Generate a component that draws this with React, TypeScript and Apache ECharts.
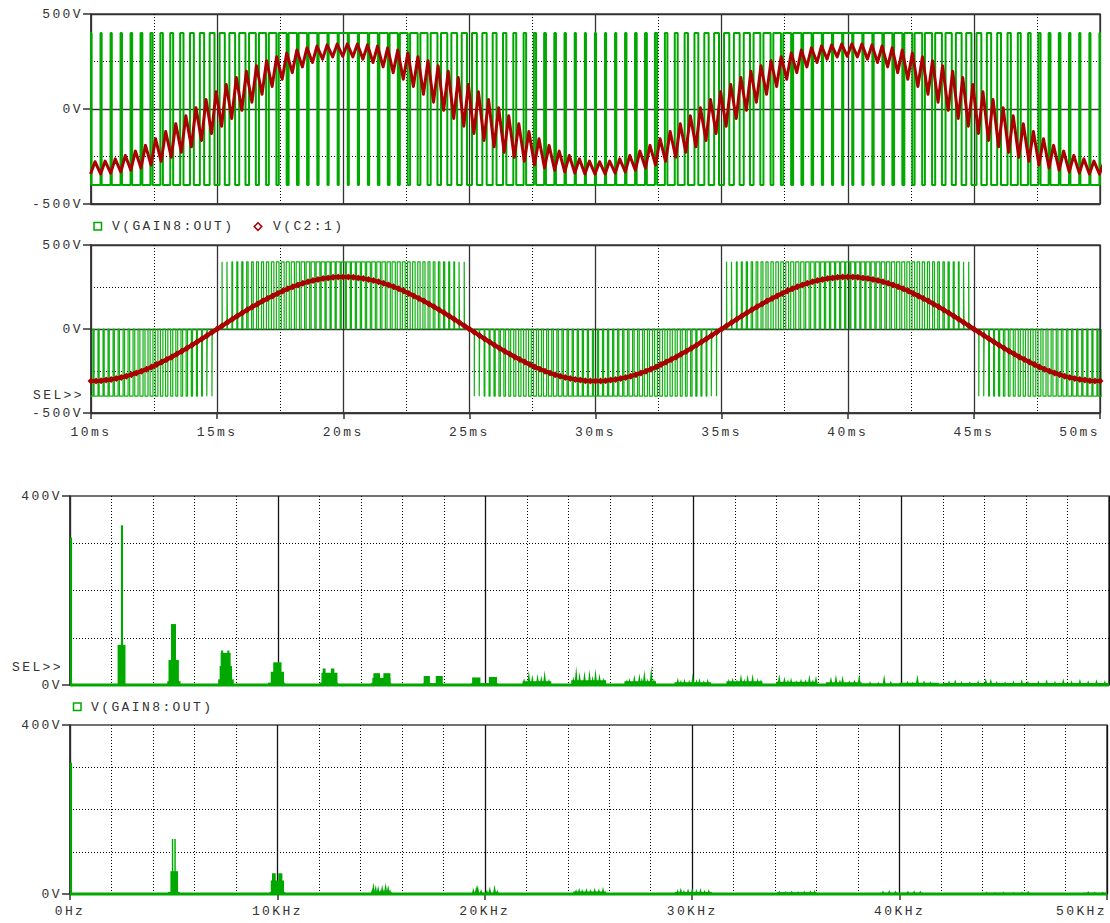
import React, { useEffect, useRef } from 'react';
import * as echarts from 'echarts';

// ---------- tick labels ----------
const timeTickLabels = ['10ms', '15ms', '20ms', '25ms', '30ms', '35ms', '40ms', '45ms', '50ms'];
const freqTickLabels = ['0Hz', '10KHz', '20KHz', '30KHz', '40KHz', '50KHz'];
const voltTickLabels = ['-500V', '0V', '500V'];
const spectrumTickLabels = ['0V', '400V'];

// ---------- time domain (one 20 ms fundamental cycle, repeated) ----------
const busVoltage = 400; // PWM level, V
const topCarrierPeriod = 0.4; // ms, bipolar PWM
const botPulsePeriod = 0.2; // ms, unipolar PWM
// duty of each bipolar pulse in one cycle (pulse k centred at 10ms + 0.4ms*k)
const topDuty = [0.11, 0.11, 0.12, 0.14, 0.16, 0.18, 0.22, 0.25, 0.29, 0.33, 0.38, 0.43, 0.48, 0.52, 0.57, 0.62, 0.67, 0.71, 0.75, 0.78, 0.82, 0.84, 0.86, 0.88, 0.89,
  0.89, 0.89, 0.88, 0.86, 0.84, 0.82, 0.78, 0.75, 0.71, 0.67, 0.62, 0.57, 0.52, 0.48, 0.43, 0.38, 0.33, 0.29, 0.25, 0.22, 0.18, 0.16, 0.14, 0.12, 0.11];
// mid value of V(C2:1) in the top plot at each pulse (V)
const topRedMid = [-310, -308, -300, -288, -272, -251, -226, -197, -166, -132, -96, -58, -19, 19, 58, 96, 132, 166, 197, 226, 251, 272, 288, 300, 308,
  310, 308, 300, 288, 272, 251, 226, 197, 166, 132, 96, 58, 19, -19, -58, -96, -132, -166, -197, -226, -251, -272, -288, -300, -308];
// peak-to-peak ripple of V(C2:1) in the top plot at each pulse (V)
const topRedRipple = [65, 68, 75, 87, 101, 119, 138, 157, 176, 192, 205, 215, 219, 219, 215, 205, 192, 176, 157, 138, 119, 101, 87, 75, 68,
  65, 68, 75, 87, 101, 119, 138, 157, 176, 192, 205, 215, 219, 219, 215, 205, 192, 176, 157, 138, 119, 101, 87, 75, 68];
// V(C2:1) in the second plot, every 0.2 ms over one cycle starting at 10 ms (V)
const botRed = [-310, -309, -308, -304, -300, -295, -288, -281, -272, -262, -251, -239, -226, -212, -197, -182, -166, -149, -132, -114, -96, -77, -58, -39, -19, 0,
  19, 39, 58, 77, 96, 114, 132, 149, 166, 182, 197, 212, 226, 239, 251, 262, 272, 281, 288, 295, 300, 304, 308, 309, 310,
  309, 308, 304, 300, 295, 288, 281, 272, 262, 251, 239, 226, 212, 197, 182, 166, 149, 132, 114, 96, 77, 58, 39, 19, 0,
  -19, -39, -58, -77, -96, -114, -132, -149, -166, -182, -197, -212, -226, -239, -251, -262, -272, -281, -288, -295, -300, -304, -308, -309];

// ---------- spectra: blocks [f0 KHz, f1 KHz, V], spikes [f KHz, V] ----------
const fft1Blocks = [
  [0, 0.1, 312], [2.29, 2.67, 85], [2.45, 2.55, 338],
  [4.68, 5.32, 8], [4.74, 5.24, 53], [4.86, 5.1, 129],
  [7.13, 7.88, 12], [7.2, 7.8, 40], [7.25, 7.73, 68], [7.27, 7.37, 73], [7.57, 7.67, 73],
  [9.53, 10.34, 5], [9.66, 10.3, 28], [9.78, 10.18, 48],
  [12.02, 12.9, 5], [12.1, 12.87, 26], [12.16, 12.3, 35], [12.56, 12.72, 35],
  [14.5, 15.46, 5], [14.55, 15.42, 15], [14.6, 14.92, 25], [15.08, 15.42, 25],
  [16.99, 17.95, 4], [17.02, 17.32, 19], [17.6, 17.94, 19],
  [19.31, 20.59, 4], [19.35, 19.75, 16], [20.16, 20.55, 17],
  [21.78, 23.16, 8], [24.12, 25.8, 10], [26.68, 28.2, 8], [29.09, 30.85, 6], [31.59, 33.32, 8],
  [33.98, 35.96, 7], [36.38, 38.1, 6], [38.1, 39.9, 3], [39.9, 41.8, 5], [42.0, 50, 4],
];
const fft1Spikes = [
  [21.85, 15], [22.08, 31], [22.25, 22], [22.5, 24], [22.68, 20], [22.84, 31], [23.05, 14],
  [24.22, 18], [24.36, 40], [24.52, 28], [24.76, 30], [25.0, 33], [25.15, 20], [25.29, 35], [25.48, 25], [25.68, 16],
  [26.8, 12], [26.92, 15], [27.16, 22], [27.4, 25], [27.52, 16], [27.64, 32], [27.8, 14], [27.97, 40], [28.1, 14],
  [29.25, 16], [29.4, 11], [29.57, 13], [29.8, 11], [29.97, 25], [30.15, 12], [30.29, 15], [30.5, 10], [30.69, 13],
  [31.7, 13], [31.89, 16], [32.1, 12], [32.29, 24], [32.45, 14], [32.61, 22], [32.85, 24], [33.09, 15], [33.25, 12],
  [34.13, 24], [34.38, 18], [34.55, 12], [34.7, 16], [34.95, 10], [35.18, 14], [35.4, 12], [35.58, 22], [35.75, 12], [35.9, 20],
  [36.62, 18], [36.86, 22], [37.05, 12], [37.18, 20], [37.5, 10], [37.75, 12], [37.98, 24], [38.5, 8], [38.9, 7], [39.18, 22], [39.5, 9],
  [40.3, 9], [40.55, 7], [40.78, 22], [41.1, 10], [41.4, 8],
  [42.3, 10], [42.6, 12], [42.9, 9], [43.3, 8], [43.7, 10], [44.07, 15], [44.31, 14], [44.6, 9], [45.0, 8], [45.4, 10],
  [45.8, 12], [46.1, 9], [46.6, 10], [47.0, 12], [47.4, 9], [47.8, 14], [48.2, 10], [48.6, 13], [49.0, 10], [49.4, 12], [49.8, 10],
];
const fft2Blocks = [
  [0, 0.1, 311],
  [4.73, 5.29, 5], [4.84, 5.21, 54], [4.91, 4.98, 130], [5.03, 5.1, 130],
  [9.62, 10.38, 5], [9.68, 10.32, 32], [9.74, 9.92, 49], [10.04, 10.24, 49],
  [14.52, 15.52, 4],
  [19.36, 20.66, 3], [24.26, 25.85, 6], [29.17, 30.95, 5], [34.08, 36.0, 4], [39.05, 41.15, 3], [43.96, 46.3, 3], [48.85, 50, 3],
];
const fft2Spikes = [
  [14.58, 14], [14.63, 27], [14.74, 22], [14.86, 20], [14.96, 10], [15.05, 22], [15.14, 12], [15.22, 27], [15.34, 22], [15.43, 12],
  [19.45, 14], [19.59, 20], [19.66, 22], [19.82, 12], [20.1, 10], [20.24, 18], [20.47, 22], [20.6, 10],
  [24.4, 12], [24.55, 15], [24.7, 12], [24.9, 14], [25.1, 12], [25.3, 15], [25.5, 13], [25.7, 17],
  [29.3, 12], [29.45, 15], [29.6, 10], [29.8, 13], [30.0, 14], [30.2, 12], [30.4, 14], [30.6, 10], [30.8, 12],
  [34.2, 8], [34.5, 7], [34.8, 8], [35.1, 7], [35.4, 8], [35.7, 9], [35.9, 10],
  [39.2, 8], [39.5, 10], [39.8, 8], [40.4, 8], [40.7, 9], [41.0, 8],
  [44.2, 6], [44.6, 5], [45.0, 6], [45.5, 5], [45.9, 6], [46.2, 8],
  [49.1, 7], [49.4, 6], [49.8, 6],
];
const spectrumFloor = [[0, 0], [50, 0]];

// ---------- build series data ----------
const topGreen: number[][] = [];
const topRed: number[][] = [];
for (let k = 0; k <= 100; k++) {
  const tc = 10 + k * topCarrierPeriod;
  const w = topDuty[k % topDuty.length] * topCarrierPeriod;
  topGreen.push([tc - w / 2, -busVoltage], [tc - w / 2, busVoltage], [tc + w / 2, busVoltage], [tc + w / 2, -busVoltage]);
  const mid = topRedMid[k % topRedMid.length];
  const pp = topRedRipple[k % topRedRipple.length];
  topRed.push([tc - 0.02, mid - pp / 2], [tc + 0.16, mid + pp / 2]);
}
const botGreen: number[][] = [];
const botRedData: number[][] = [];
for (let j = 0; j <= 200; j++) {
  const tc = 10 + j * botPulsePeriod;
  const v = botRed[j % botRed.length];
  botRedData.push([tc, v]);
  if (v !== 0) {
    const level = Math.sign(v) * busVoltage;
    const w = (Math.abs(v) / busVoltage) * botPulsePeriod;
    botGreen.push([tc - w / 2, 0], [tc - w / 2, level], [tc + w / 2, level], [tc + w / 2, 0]);
  }
}
const spikeHalf = 0.08;
const toSegments = (blocks: number[][], spikes: number[][]) => [
  ...blocks.map((b) => [b[0], b[1], b[2], 0]),
  ...spikes.map((s) => [s[0] - spikeHalf, s[0] + spikeHalf, s[1], 1]),
];

// ---------- styles ----------
const FONT = '"Liberation Mono", monospace';
const FS = 13;
const TXT = '#333';
const GREEN = '#00a800';
const RED = '#aa0000';
const solidLine = { color: '#333', width: 1.3 };
const dottedLine = { color: '#000', width: 1, type: [1, 2] };
const axisLineStyle = { color: '#333', width: 1.5 };

function xAxisTime(gridIndex: number, labels: boolean) {
  return {
    type: 'value', gridIndex, min: 10, max: 50, interval: 5,
    axisLine: { show: true, onZero: false, lineStyle: axisLineStyle },
    axisTick: { show: labels, length: 6, lineStyle: axisLineStyle },
    axisLabel: {
      show: labels, margin: 13, fontFamily: FONT, fontSize: FS, color: TXT, alignMaxLabel: 'right',
      formatter: (v: number) => timeTickLabels[Math.round((v - 10) / 5)],
    },
    splitLine: { show: true, lineStyle: solidLine },
    minorTick: { show: false, splitNumber: 2 },
    minorSplitLine: { show: true, lineStyle: dottedLine },
  };
}
function xAxisFreq(gridIndex: number, labels: boolean) {
  return {
    type: 'value', gridIndex, min: 0, max: 50, interval: 10,
    axisLine: { show: true, onZero: false, lineStyle: axisLineStyle },
    axisTick: { show: labels, length: 6, lineStyle: axisLineStyle },
    axisLabel: {
      show: labels, margin: 11, fontFamily: FONT, fontSize: FS, color: TXT, alignMaxLabel: 'right',
      formatter: (v: number) => freqTickLabels[Math.round(v / 10)],
    },
    splitLine: { show: true, lineStyle: { color: '#111', width: 1.3 } },
    minorTick: { show: false, splitNumber: 5 },
    minorSplitLine: { show: true, lineStyle: dottedLine },
  };
}
function yAxisVolt(gridIndex: number) {
  return {
    type: 'value', gridIndex, min: -500, max: 500, interval: 500,
    axisLine: { show: true, onZero: false, lineStyle: axisLineStyle },
    axisTick: { show: true, length: 8, lineStyle: axisLineStyle },
    axisLabel: {
      margin: 8, fontFamily: FONT, fontSize: FS, color: TXT,
      formatter: (v: number) => voltTickLabels[Math.round((v + 500) / 500)],
    },
    splitLine: { show: true, lineStyle: solidLine },
    minorTick: { show: false, splitNumber: 2 },
    minorSplitLine: { show: true, lineStyle: dottedLine },
  };
}
function yAxisSpec(gridIndex: number) {
  return {
    type: 'value', gridIndex, min: 0, max: 400, interval: 400,
    axisLine: { show: true, onZero: false, lineStyle: axisLineStyle },
    axisTick: { show: true, length: 8, lineStyle: axisLineStyle },
    axisLabel: {
      margin: 8, fontFamily: FONT, fontSize: FS, color: TXT,
      formatter: (v: number) => spectrumTickLabels[Math.round(v / 400)],
    },
    splitLine: { show: false },
    minorTick: { show: false, splitNumber: 4 },
    minorSplitLine: { show: true, lineStyle: dottedLine },
  };
}

const renderSpectrum = (_params: any, api: any) => {
  const f0 = api.value(0);
  const f1 = api.value(1);
  const a = api.value(2);
  const kind = api.value(3);
  const pTop = api.coord([f0, a]);
  const pBase = api.coord([f1, 0]);
  if (kind === 1) {
    const apex = api.coord([(f0 + f1) / 2, a]);
    return {
      type: 'polygon',
      shape: { points: [[pTop[0], pBase[1]], [apex[0], apex[1]], [pBase[0], pBase[1]]] },
      style: { fill: GREEN },
    };
  }
  return {
    type: 'rect',
    shape: { x: pTop[0], y: pTop[1], width: Math.max(pBase[0] - pTop[0], 1), height: pBase[1] - pTop[1] },
    style: { fill: GREEN },
  };
};

const gridBase = { show: true, borderColor: '#444', borderWidth: 1.5, backgroundColor: 'transparent', containLabel: false };
const txt = (text: string, x: number, y: number) => ({
  type: 'text', x, y, style: { text, fontFamily: FONT, fontSize: FS, fill: TXT, verticalAlign: 'middle' },
});

const option: any = {
  animation: false,
  backgroundColor: '#ffffff',
  grid: [
    { ...gridBase, left: 91, top: 14, width: 1009, height: 190 },
    { ...gridBase, left: 91, top: 245, width: 1009, height: 168 },
    { ...gridBase, left: 70, top: 496, width: 1039, height: 189 },
    { ...gridBase, left: 70, top: 725, width: 1039, height: 169 },
  ],
  xAxis: [xAxisTime(0, false), xAxisTime(1, true), xAxisFreq(2, false), xAxisFreq(3, true)],
  yAxis: [yAxisVolt(0), yAxisVolt(1), yAxisSpec(2), yAxisSpec(3)],
  series: [
    { type: 'line', name: 'V(GAIN8:OUT)', xAxisIndex: 0, yAxisIndex: 0, data: topGreen, showSymbol: false, symbol: 'none', lineStyle: { color: GREEN, width: 2 }, clip: true },
    { type: 'line', name: 'V(C2:1)', xAxisIndex: 0, yAxisIndex: 0, data: topRed, showSymbol: false, symbol: 'none', lineStyle: { color: RED, width: 3, join: 'round' }, clip: true },
    { type: 'line', name: 'V(GAIN8:OUT)', xAxisIndex: 1, yAxisIndex: 1, data: botGreen, showSymbol: false, symbol: 'none', lineStyle: { color: '#10b010', width: 1.2 }, clip: true },
    { type: 'line', name: 'V(C2:1)', xAxisIndex: 1, yAxisIndex: 1, data: botRedData, symbol: 'diamond', symbolSize: 7, showSymbol: true, itemStyle: { color: RED }, lineStyle: { color: RED, width: 4 }, clip: true },
    { type: 'line', name: 'floor1', xAxisIndex: 2, yAxisIndex: 2, data: spectrumFloor, symbol: 'none', lineStyle: { color: GREEN, width: 3 }, clip: false },
    { type: 'custom', name: 'V(GAIN8:OUT)', xAxisIndex: 2, yAxisIndex: 2, data: toSegments(fft1Blocks, fft1Spikes), renderItem: renderSpectrum, encode: { x: [0, 1], y: 2 }, clip: true },
    { type: 'line', name: 'floor2', xAxisIndex: 3, yAxisIndex: 3, data: spectrumFloor, symbol: 'none', lineStyle: { color: GREEN, width: 3 }, clip: false },
    { type: 'custom', name: 'V(GAIN8:OUT)', xAxisIndex: 3, yAxisIndex: 3, data: toSegments(fft2Blocks, fft2Spikes), renderItem: renderSpectrum, encode: { x: [0, 1], y: 2 }, clip: true },
  ],
  graphic: [
    { type: 'rect', shape: { x: 94, y: 222.5, width: 7.5, height: 7.5 }, style: { fill: 'none', stroke: GREEN, lineWidth: 1.5 } },
    txt('V(GAIN8:OUT)', 112, 226.5),
    { type: 'polygon', shape: { points: [[258, 222.8], [261.8, 226.6], [258, 230.4], [254.2, 226.6]] }, style: { fill: 'none', stroke: RED, lineWidth: 1.5 } },
    txt('V(C2:1)', 273, 226.5),
    txt('SEL>>', 33, 395),
    txt('SEL>>', 12, 667),
    { type: 'rect', shape: { x: 73.5, y: 703, width: 7.5, height: 7.5 }, style: { fill: 'none', stroke: GREEN, lineWidth: 1.5 } },
    txt('V(GAIN8:OUT)', 91, 707),
  ],
};

export default function App() {
  const ref = useRef<HTMLDivElement>(null);
  useEffect(() => {
    document.body.style.margin = '0';
    const chart = echarts.init(ref.current as HTMLDivElement, undefined, { renderer: 'svg' });
    chart.setOption(option);
    return () => {
      chart.dispose();
    };
  }, []);
  return (
    <>
      <style>{`body{margin:0}.pspice text{letter-spacing:2.4px}`}</style>
      <div ref={ref} className="pspice" style={{ width: 1110, height: 923, background: '#fff' }} />
    </>
  );
}
